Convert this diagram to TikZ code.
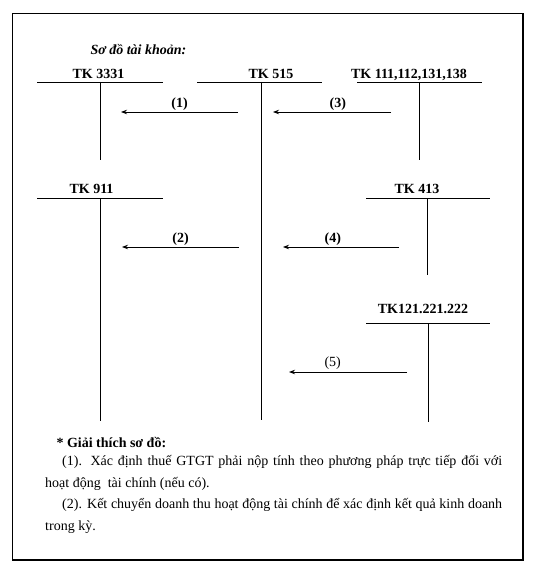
\documentclass[tikz,border=0pt]{standalone}
\usepackage{fontspec}
\setmainfont{Liberation Serif}
\usetikzlibrary{arrows.meta}

\tikzset{
    tklabel/.style={anchor=base, font=\fontsize{14}{16}\selectfont\bfseries},
    flow/.style={line width=0.9pt, -{Stealth[length=6pt,width=4.5pt]}},
    tline/.style={line width=0.9pt}
}

\begin{document}
\begin{tikzpicture}[x=1pt,y=-1pt]
    \useasboundingbox (0,0) rectangle (538,575);
    \draw[line width=1.1pt] (12.7,13.3) rectangle (523,560);

    \node[anchor=base west, font=\fontsize{14}{16}\selectfont\bfseries\itshape] (title) at (87,55) {Sơ đồ tài khoản:};

    % tai khoan chu T
    \node[tklabel] (tk3331) at (98.5,79) {TK 3331};
    \draw[tline] (37,82) -- (163,82);
    \draw[tline] (100,82) -- (100,160);

    \node[tklabel] (tk515) at (271,79) {TK 515};
    \draw[tline] (197,82) -- (322,82);
    \draw[tline] (261,82) -- (261,420);

    \node[tklabel] (tk111) at (409,79) {TK 111,112,131,138};
    \draw[tline] (357,82) -- (482,82);
    \draw[tline] (419,82) -- (419,160);

    \node[tklabel] (tk911) at (91.5,193) {TK 911};
    \draw[tline] (37,198) -- (163,198);
    \draw[tline] (100,198) -- (100,421);

    \node[tklabel] (tk413) at (417,193) {TK 413};
    \draw[tline] (366,198) -- (490,198);
    \draw[tline] (427,198) -- (427,275);

    \node[tklabel] (tk121) at (423,313) {TK121.221.222};
    \draw[tline] (366,323) -- (490,323);
    \draw[tline] (428,323) -- (428,422);

    % but toan
    \coordinate (s1) at (238,112); \coordinate (e1) at (121,112);
    \coordinate (s3) at (391,112); \coordinate (e3) at (273,112);
    \coordinate (s2) at (239,247); \coordinate (e2) at (122,247);
    \coordinate (s4) at (399,247); \coordinate (e4) at (283,247);
    \coordinate (s5) at (407,372); \coordinate (e5) at (289,372);

    \draw[flow] (s1) --node[tklabel, anchor=south, inner sep=1pt]{(1)}(e1);
    \draw[flow] (s3) --node[tklabel, anchor=south, inner sep=1pt, pos=.45]{(3)}(e3);
    \draw[flow] (s2) --node[tklabel, anchor=south, inner sep=1pt]{(2)}(e2);
    \draw[flow] (s4) --node[tklabel, anchor=south, inner sep=1pt, pos=.57]{(4)}(e4);
    \draw[flow] (s5) --node[anchor=south, inner sep=2pt, pos=.63, font=\fontsize{14}{16}\selectfont]{(5)}(e5);

    % giai thich
    \node[anchor=base west, font=\fontsize{14}{16}\selectfont\bfseries] (note) at (53,447) {* Giải thích sơ đồ:};
    \node[anchor=north west, inner sep=0pt, text width=457pt, align=justify,
          font=\fontsize{14}{21.5}\selectfont] (expl) at (45,450.5)
    {\strut\hspace*{17pt}(1). Xác định thuế GTGT phải nộp tính theo phương pháp trực tiếp đối với\linebreak
     hoạt động\ \ tài chính (nếu có).\par
     \strut\hspace*{17pt}(2). Kết chuyển doanh thu hoạt động tài chính để xác định kết quả kinh doanh\linebreak
     trong kỳ.};
\end{tikzpicture}
\end{document}
